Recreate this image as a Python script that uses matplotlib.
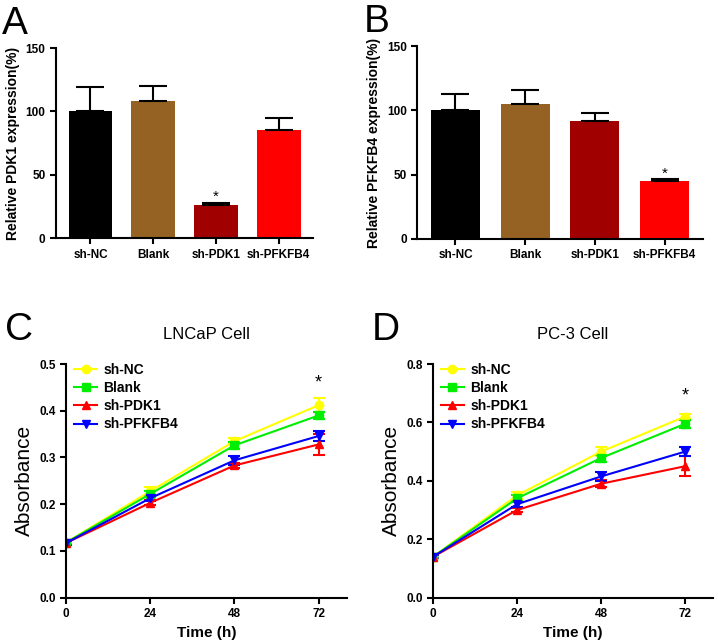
import matplotlib.pyplot as plt
from matplotlib.lines import Line2D
import numpy as np

groups = ["sh-NC", "Blank", "sh-PDK1", "sh-PFKFB4"]
bar_colors = ["#000000", "#956224", "#a00000", "#ff0000"]

# panel A / B bar data
pdk1_mean = [100, 108, 26, 85]
pdk1_err = [19, 12, 2, 10]
pfkfb4_mean = [100, 105, 92, 45]
pfkfb4_err = [13, 11, 6, 1.5]

# panel C / D growth curves
times = [0, 24, 48, 72]
lncap = {
    "sh-NC": [0.118, 0.228, 0.335, 0.412],
    "Blank": [0.118, 0.222, 0.326, 0.390],
    "sh-PDK1": [0.117, 0.203, 0.283, 0.328],
    "sh-PFKFB4": [0.117, 0.213, 0.294, 0.346],
}
lncap_err = {
    "sh-NC": [0.004, 0.008, 0.007, 0.015],
    "Blank": [0.004, 0.007, 0.008, 0.008],
    "sh-PDK1": [0.004, 0.005, 0.006, 0.022],
    "sh-PFKFB4": [0.004, 0.006, 0.010, 0.010],
}
pc3 = {
    "sh-NC": [0.140, 0.350, 0.500, 0.620],
    "Blank": [0.140, 0.340, 0.478, 0.595],
    "sh-PDK1": [0.140, 0.300, 0.390, 0.450],
    "sh-PFKFB4": [0.140, 0.320, 0.415, 0.500],
}
pc3_err = {
    "sh-NC": [0.005, 0.012, 0.015, 0.008],
    "Blank": [0.005, 0.010, 0.012, 0.015],
    "sh-PDK1": [0.005, 0.008, 0.012, 0.035],
    "sh-PFKFB4": [0.005, 0.008, 0.015, 0.015],
}
line_colors = {"sh-NC": "#ffff00", "Blank": "#00ee00", "sh-PDK1": "#ff0000", "sh-PFKFB4": "#0000ff"}
markers = {"sh-NC": "o", "Blank": "s", "sh-PDK1": "^", "sh-PFKFB4": "v"}

plt.rcParams["font.family"] = "Liberation Sans"

fig = plt.figure(figsize=(7.18, 6.42), dpi=100)


def style(ax):
    ax.spines["top"].set_visible(False)
    ax.spines["right"].set_visible(False)
    ax.spines["left"].set_linewidth(1.5)
    ax.spines["bottom"].set_linewidth(1.5)
    ax.tick_params(width=1.5, length=4, labelsize=8.5)
    for lab in ax.get_xticklabels() + ax.get_yticklabels():
        lab.set_fontweight("bold")


def bar_panel(rect, means, errs, ylabel, star_idx, star_y, letter):
    ax = fig.add_axes(rect)
    x = np.arange(len(groups))
    ax.bar(x, means, width=0.7, color=bar_colors)
    ax.errorbar(x, means, yerr=[np.zeros(len(errs)), errs], fmt="none",
                ecolor="black", elinewidth=1.5, capsize=10, capthick=1.5)
    ax.set_xlim(-0.55, 3.55)
    ax.set_ylim(0, 150)
    ax.set_yticks([0, 50, 100, 150])
    ax.set_xticks(x)
    ax.set_xticklabels(groups)
    ax.tick_params(axis="x", length=0)
    ax.set_ylabel(ylabel, fontsize=10, fontweight="bold")
    ax.text(star_idx, star_y, "*", ha="center", va="center", fontsize=11)
    style(ax)
    fig.text(rect[0] - 0.075, rect[1] + rect[3] + 0.01, letter, fontsize=28, va="bottom")
    return ax


def line_panel(rect, data, errs, ymax, yticks, title, star_y, letter):
    ax = fig.add_axes(rect)
    handles = []
    for g in groups:
        ax.errorbar(times, data[g], yerr=errs[g], color=line_colors[g], marker=markers[g],
                    markersize=6, linewidth=1.5, elinewidth=1.5, capsize=4, capthick=1.5)
        handles.append(Line2D([], [], color=line_colors[g], marker=markers[g],
                              markersize=6, linewidth=1.5, label=g))
    ax.set_xlim(0, 80)
    ax.set_ylim(0, ymax)
    ax.set_xticks(times)
    ax.set_yticks(yticks)
    ax.set_xlabel("Time (h)", fontsize=11, fontweight="bold")
    ax.set_ylabel("Absorbance", fontsize=15)
    ax.set_title(title, fontsize=12, pad=18)
    ax.text(72, star_y, "*", ha="center", va="center", fontsize=13)
    ax.legend(handles=handles, loc="upper left", bbox_to_anchor=(0.0, 1.04), frameon=False,
              handlelength=1.6, handletextpad=0.5, borderaxespad=0.2,
              prop={"weight": "bold", "size": 10}, labelspacing=0.3)
    style(ax)
    fig.text(rect[0] - 0.085, rect[1] + rect[3] + 0.025, letter, fontsize=28, va="bottom")
    return ax


bar_panel([0.078, 0.629, 0.358, 0.296], pdk1_mean, pdk1_err,
          "Relative PDK1 expression(%)", 2, 33, "A")
bar_panel([0.581, 0.628, 0.398, 0.300], pfkfb4_mean, pfkfb4_err,
          "Relative PFKFB4 expression(%)", 3, 51, "B")
line_panel([0.092, 0.069, 0.391, 0.364], lncap, lncap_err, 0.5,
           [0.0, 0.1, 0.2, 0.3, 0.4, 0.5], "LNCaP Cell", 0.46, "C")
line_panel([0.603, 0.069, 0.390, 0.364], pc3, pc3_err, 0.8,
           [0.0, 0.2, 0.4, 0.6, 0.8], "PC-3 Cell", 0.69, "D")

fig.savefig("out.png", dpi=100)
